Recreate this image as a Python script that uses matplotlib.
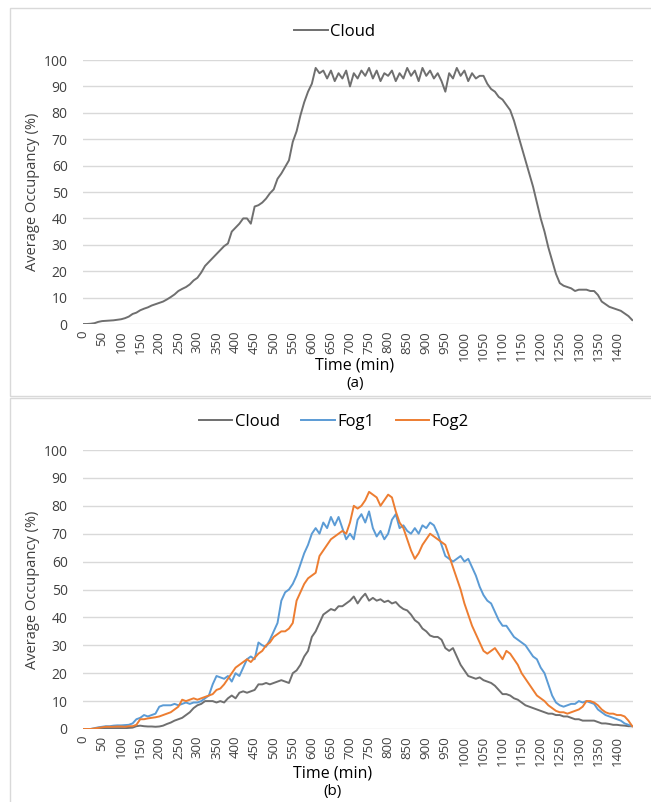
import numpy as np
import matplotlib.pyplot as plt
from matplotlib.patches import Rectangle

plt.rcParams['font.family'] = ['Open Sans', 'DejaVu Sans']

#####################       DATA_SET         ##########################
# time axis, one value every 10 min
minutes = list(range(0, 1441, 10))
tick_labels = list(range(0, 1401, 50))

# (a) Cloud only
cloud_a = [0, 0, 0.1, 0.3, 0.8, 1.1, 1.2, 1.3, 1.4, 1.6,
           1.8, 2.2, 2.8, 3.8, 4.3, 5.2, 5.8, 6.3, 7, 7.5,
           8, 8.5, 9.3, 10.2, 11.2, 12.5, 13.3, 14, 15, 16.5,
           17.5, 19.5, 22, 23.5, 25, 26.5, 28, 29.5, 30.5, 35,
           36.5, 38, 40, 40, 38, 44.5, 45, 46, 47.5, 49.5,
           51, 55, 57, 59.5, 62, 69, 73, 79, 84, 88,
           91, 97, 95, 96, 93, 96, 92, 95, 93, 96,
           90, 95, 93, 96, 94, 97, 93, 96, 92, 95,
           94, 96, 92, 95, 93, 97, 94, 96, 92, 97,
           94, 96, 93, 95, 92, 88, 95, 93, 97, 94,
           96, 92, 95, 93, 94, 94, 91, 89, 88, 86,
           85, 83, 81, 77, 72, 67, 62, 57, 52, 46,
           40, 35, 29, 24, 19, 15.5, 14.5, 14, 13.5, 12.5,
           13, 13, 13, 12.5, 12.5, 11, 8.5, 7.5, 6.5, 6,
           5.5, 5, 4, 3, 1.5]

# (b) Cloud, Fog1, Fog2
cloud_b = [0, 0, 0, 0, 0.2, 0.3, 0.3, 0.3, 0.3, 0.3,
           0.3, 0.3, 0.4, 0.5, 1, 1.2, 1, 0.9, 0.9, 0.8,
           0.9, 1.2, 1.8, 2.3, 3, 3.5, 4, 5, 6, 7.5,
           8.5, 9, 10, 10, 10, 9.5, 10, 9.5, 11, 12,
           11, 13, 13.5, 13, 13.5, 14, 16, 16, 16.5, 16,
           16.5, 17, 17.5, 17, 16.5, 20, 21, 23, 26, 28,
           33, 35, 38, 41, 42, 43, 42.5, 44, 44, 45,
           46, 47.5, 45, 47, 48.5, 46, 47, 46, 46.5, 45.5,
           46, 45, 45.5, 44, 43, 42.5, 41, 39, 38, 36,
           35, 33.5, 33, 33, 32, 29, 28, 29, 26, 23,
           21, 19, 18.5, 18, 18.5, 17.5, 17, 16.5, 15.5, 14,
           12.5, 12.5, 12, 11, 10.5, 9.5, 8.5, 8, 7.5, 7,
           6.5, 6, 5.5, 5.5, 5, 5, 4.5, 4.5, 4, 3.5,
           3.5, 3, 3, 3, 3, 2.5, 2, 2, 1.8, 1.5,
           1.5, 1.3, 1.2, 1, 1]
fog1_b = [0, 0, 0, 0.3, 0.6, 0.8, 1, 1, 1.2, 1.3,
          1.3, 1.4, 1.5, 2, 3.5, 4, 5, 4.5, 5, 5.5,
          8, 8.5, 8.5, 8.5, 9, 8.5, 9, 9.5, 9, 9.5,
          9.5, 10, 11, 12, 16, 19, 18.5, 18, 19, 17,
          20, 19, 22, 25, 26, 25, 31, 30, 29.5, 32,
          35, 38, 46, 49, 50, 52, 55, 59, 63, 66,
          70, 72, 70, 74, 72, 76, 73, 76, 72, 68,
          70, 68, 75, 77, 74, 78, 72, 69, 71, 68,
          70, 75, 77, 72, 73, 71, 70, 72, 70, 73,
          72, 74, 73, 70, 66, 62, 61, 60, 61, 62,
          60, 61, 58, 55, 51, 48, 46, 45, 42, 39,
          37, 37, 35, 33, 32, 31, 30, 28, 26, 25,
          22, 20, 16, 12, 9.5, 8.5, 8, 8.5, 9, 9,
          10, 9.5, 10, 9.5, 9, 7, 6, 5, 4.5, 4,
          3.5, 3, 2, 1.5, 1]
fog2_b = [0, 0, 0, 0.2, 0.4, 0.6, 0.8, 0.8, 0.8, 0.9,
          0.9, 0.8, 1, 1, 1.5, 3.5, 3.5, 3.8, 4, 4.2,
          4.5, 5, 5.5, 6, 7, 8, 10.5, 10, 10.5, 11,
          10.5, 11, 11.5, 12, 12.5, 14, 14.5, 16, 18, 20,
          22, 23, 24, 25, 24, 25.5, 27, 28, 30, 31,
          33, 34, 35, 35, 36, 38, 46, 49, 52, 54,
          55, 56, 62, 64, 66, 68, 69, 70, 71, 70,
          74, 80, 79, 80, 82, 85, 84, 83, 80, 82,
          84, 83, 78, 74, 72, 68, 64, 61, 63, 66,
          68, 70, 69, 68, 67, 66, 62, 58, 54, 50,
          45, 41, 37, 34, 31, 28, 27, 28, 29, 27,
          25, 28, 27, 25, 23, 20, 18, 16, 14, 12,
          11, 10, 8.5, 7.5, 6.5, 6, 6, 5.5, 6, 6.5,
          7, 8, 10, 10, 9.5, 8.5, 7, 6, 5.5, 5.5,
          5, 5, 4.5, 3, 1]

grey = '#6f6f6f'
blue = '#5b9bd5'
orange = '#ed7d31'
grid_c = '#d9d9d9'

#####################         PLOT          #############################
fig = plt.figure(figsize=(6.51, 8.02), dpi=100)

# panel frames
fig.patches.append(Rectangle((10/651, 406/802), 0.99, 388/802, transform=fig.transFigure,
                             fill=False, edgecolor=grid_c, lw=1))
fig.patches.append(Rectangle((10/651, -0.01), 0.99, 404/802 + 0.01, transform=fig.transFigure,
                             fill=False, edgecolor=grid_c, lw=1))

ax1 = fig.add_axes([83/651, 478/802, 550/651, 264/802])
ax2 = fig.add_axes([83/651, 73/802, 550/651, 279/802])

def style_axes(ax):
    ax.set_xlim(0, 1442)
    ax.set_ylim(0, 100)
    ax.set_yticks(range(0, 101, 10))
    ax.set_xticks(tick_labels)
    ax.set_xticklabels([str(t) for t in tick_labels], rotation=90, fontsize=9.5, color='#404040')
    ax.tick_params(axis='y', labelsize=10, colors='#404040', length=0, pad=11)
    ax.tick_params(axis='x', length=0, pad=5)
    ax.grid(axis='y', color=grid_c, lw=1)
    ax.set_axisbelow(True)
    for s in ax.spines.values():
        s.set_visible(False)
    ax.set_ylabel('Average Occupancy (%)', fontsize=10.5, color='#404040', labelpad=3)

# (a)
ax1.plot(minutes, cloud_a, color=grey, lw=1.4, label='Cloud')
style_axes(ax1)
ax1.legend(loc='center', bbox_to_anchor=(0.458, 1.106), frameon=False,
           fontsize=12, handlelength=2.0, handletextpad=0.15, borderpad=0)
fig.text(355/651, 1 - 366/802, 'Time (min)', ha='center', va='center', fontsize=11.5)
fig.text(355/651, 1 - 384/802, '(a)', ha='center', va='center', fontsize=11)

# (b)
ax2.plot(minutes, cloud_b, color=grey, lw=1.4, label='Cloud')
ax2.plot(minutes, fog1_b, color=blue, lw=1.4, label='Fog1')
ax2.plot(minutes, fog2_b, color=orange, lw=1.4, label='Fog2')
style_axes(ax2)
ax2.legend(loc='center', bbox_to_anchor=(0.456, 1.10), frameon=False, ncol=3,
           fontsize=12, handlelength=2.0, handletextpad=0.15, columnspacing=1.3, borderpad=0)
fig.text(333/651, 1 - 773/802, 'Time (min)', ha='center', va='center', fontsize=11.5)
fig.text(333/651, 1 - 792/802, '(b)', ha='center', va='center', fontsize=11)

fig.savefig('out.png', dpi=100)
